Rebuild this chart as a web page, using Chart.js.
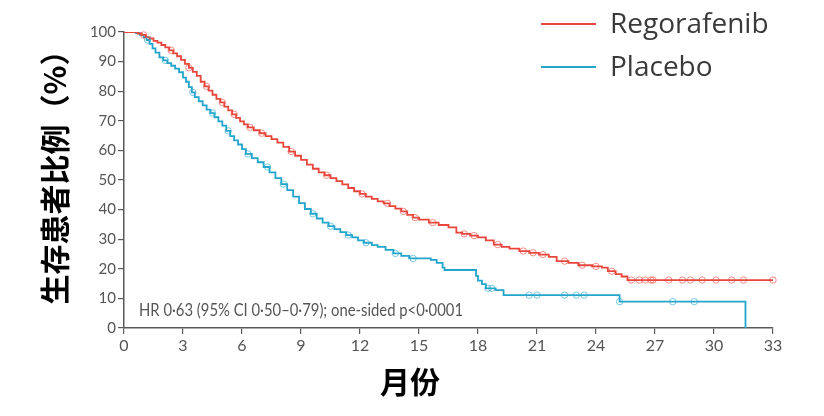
<!DOCTYPE html>
<html>
<head>
<meta charset="utf-8">
<script src="https://cdn.jsdelivr.net/npm/chart.js@4/dist/chart.umd.min.js"></script>
<style>
    html, body { margin: 0; padding: 0; background: #fff; }
    #wrap { position: relative; width: 824px; height: 416px; }
</style>
</head>
<body>
<div id="wrap"><canvas id="grafica" width="824" height="416"></canvas></div>
<script>
/* ==========================================================
   Kaplan-Meier: Regorafenib vs Placebo
========================================================== */

const xTicks = [0, 3, 6, 9, 12, 15, 18, 21, 24, 27, 30, 33];
const yTicks = [0, 10, 20, 30, 40, 50, 60, 70, 80, 90, 100];

const regoT = [0, 0.5, 0.7, 0.9, 1.1, 1.3, 1.5, 1.7, 1.9, 2.1, 2.3, 2.5, 2.7, 2.9,
    3.1, 3.3, 3.5, 3.7, 3.9, 4.1, 4.3, 4.5, 4.7, 4.9, 5.1, 5.3, 5.5, 5.7, 5.9,
    6.1, 6.3, 6.6, 6.9, 7.2, 7.5, 7.8, 8.1, 8.4, 8.7, 9.0, 9.3, 9.6, 9.9, 10.2,
    10.5, 10.8, 11.1, 11.4, 11.7, 12.0, 12.3, 12.6, 12.9, 13.2, 13.5, 13.8, 14.1,
    14.4, 14.7, 15.0, 15.5, 16.0, 16.5, 16.9, 17.2, 17.6, 18.0, 18.4, 18.8, 19.2,
    19.6, 20.1, 20.6, 21.1, 21.6, 22.0, 22.6, 23.1, 23.8, 24.3, 24.6, 25.0, 25.3,
    25.6, 33.0];
const regoS = [100, 100, 99.5, 99, 98.3, 97.8, 97, 96.4, 95.6, 94.8, 93.8, 92.8, 91.8, 90.6,
    89.2, 87.9, 86.5, 85.2, 83.2, 81.6, 80.2, 78.8, 77.4, 76.2, 74.8, 73.5, 72.2, 71.0, 69.8,
    68.8, 67.8, 66.8, 65.8, 64.8, 63.8, 62.6, 61.2, 59.6, 58.2, 56.8, 55.2, 53.8, 52.6, 51.6,
    50.6, 49.6, 48.5, 47.3, 46.2, 45.3, 44.4, 43.6, 42.8, 42.1, 41.2, 40.3, 39.4,
    38.2, 37.3, 36.6, 35.6, 34.8, 34.0, 32.2, 31.8, 31.2, 30.6, 29.6, 28.2, 27.4,
    26.8, 26.0, 25.4, 24.8, 24.0, 22.6, 22.0, 21.2, 20.8, 20.4, 19.2, 18.2, 17.4,
    16.2, 16.2];

const placT = [0, 0.6, 0.8, 1.0, 1.15, 1.3, 1.45, 1.6, 1.8, 2.0, 2.2, 2.4, 2.6, 2.8,
    3.0, 3.15, 3.3, 3.45, 3.6, 3.8, 4.0, 4.2, 4.4, 4.6, 4.8, 5.0, 5.2, 5.4, 5.6, 5.8,
    6.0, 6.2, 6.5, 6.8, 7.1, 7.4, 7.7, 8.0, 8.3, 8.6, 8.9, 9.2, 9.5, 9.8, 10.1, 10.4,
    10.7, 11.0, 11.3, 11.6, 11.9, 12.2, 12.6, 12.9, 13.3, 13.7, 14.1, 14.5, 15.6,
    15.9, 16.2, 16.3, 17.8, 17.9, 18.0, 18.2, 18.4, 18.9, 19.3, 25.1, 25.2, 31.6, 31.6];
const placS = [100, 99.6, 99, 98.2, 97.3, 96.0, 94.5, 93.0, 91.4, 90.4, 89.5, 88.6, 87.6, 86.4,
    84.6, 83.2, 81.4, 79.6, 78.0, 76.6, 75.2, 73.8, 72.6, 71.2, 69.8, 68.4, 66.6, 64.8, 63.4, 62.0,
    60.4, 58.8, 57.4, 56.0, 54.4, 52.6, 50.6, 48.6, 46.6, 44.4, 42.2, 40.2, 38.6, 37.0, 35.6, 34.4,
    33.4, 32.4, 31.4, 30.6, 29.6, 28.8, 28.0, 27.4, 26.4, 25.2, 24.4, 23.5, 23.0,
    22.0, 20.4, 19.6, 19.6, 17.6, 16.0, 14.8, 13.4, 12.8, 11.1, 11.1, 8.9, 8.9, 0];

// censurados (círculos)
const regoCensT = [1.0, 2.4, 3.3, 4.2, 5.0, 5.6, 6.4, 7.0, 8.5, 10.3, 12.1, 13.4, 14.2, 14.8,
    15.7, 17.3, 17.8, 19.0, 20.3, 20.8, 21.3, 22.4, 23.3, 24.0, 24.8,
    25.8, 26.2, 26.5, 26.8, 26.9, 27.7, 28.4, 28.8, 29.4, 30.1, 30.9, 31.5, 33.0];
const regoCensS = [99, 93.8, 87.9, 81.6, 76.2, 72.2, 67.8, 65.8, 59.6, 51.6, 45.3, 42.1, 39.4, 37.3,
    35.6, 31.8, 31.2, 28.2, 26.0, 25.4, 24.8, 22.6, 21.2, 20.8, 19.2,
    16.2, 16.2, 16.2, 16.2, 16.2, 16.2, 16.2, 16.2, 16.2, 16.2, 16.2, 16.2, 16.2];

const placCensT = [1.2, 2.1, 3.5, 4.5, 5.3, 6.3, 7.3, 8.1, 9.6, 10.5, 11.4, 12.3, 13.8, 14.7,
    18.5, 18.7, 20.6, 21.0, 22.4, 23.0, 23.4, 25.2, 27.9, 29.0];
const placCensS = [97.3, 90.4, 79.6, 72.6, 66.6, 58.8, 54.4, 48.6, 38.6, 34.4, 31.4, 28.8, 25.2, 23.5,
    13.4, 13.4, 11.1, 11.1, 11.1, 11.1, 11.1, 8.9, 8.9, 8.9];

const nombres = ["Regorafenib", "Placebo"];
const colores = ["#e8463c", "#24a5cc"];
const coloresCens = ["rgba(232,70,60,.6)", "rgba(36,165,204,.6)"];

const anotacion = "HR 0·63 (95% CI 0·50–0·79); one-sided p<0·0001";
const tituloY = "生存患者比例（%）";
const tituloX = "月份";

/* ========================================================== */
function pares(t, s) {
    return t.map((x, i) => ({ x: x, y: s[i] }));
}

function curva(i, t, s) {
    return {
        label: nombres[i],
        data: pares(t, s),
        borderColor: colores[i],
        borderWidth: 1.8,
        stepped: "before",
        pointRadius: 0,
        fill: false,
        order: 1
    };
}

function censura(i, t, s) {
    return {
        label: nombres[i] + " cens",
        data: pares(t, s),
        showLine: false,
        pointStyle: "circle",
        pointRadius: 3.2,
        pointBorderWidth: 1,
        pointBorderColor: coloresCens[i],
        pointBackgroundColor: "rgba(0,0,0,0)",
        clip: false,
        order: 0
    };
}

/* ==========================================================
TEXTOS: leyenda, anotación y títulos
========================================================== */
const textos = {
    id: "textos",
    afterDraw(chart) {
        const ctx = chart.ctx;
        ctx.save();

        // leyenda
        const filas = [24, 67];
        nombres.forEach((n, i) => {
            ctx.strokeStyle = colores[i];
            ctx.lineWidth = 2.2;
            ctx.beginPath();
            ctx.moveTo(541, filas[i]);
            ctx.lineTo(596, filas[i]);
            ctx.stroke();

            ctx.fillStyle = "#3a3a3a";
            ctx.font = "28px 'Open Sans'";
            ctx.textAlign = "left";
            ctx.textBaseline = "middle";
            ctx.fillText(n, 610, filas[i] + 1);
        });

        // anotación HR
        ctx.fillStyle = "#555";
        ctx.font = "17px Lato";
        ctx.textAlign = "left";
        ctx.textBaseline = "alphabetic";
        ctx.fillText(anotacion, 139, 316, 324);

        // título eje Y
        ctx.fillStyle = "#000";
        ctx.font = "bold 30px 'Noto Sans CJK SC'";
        ctx.textAlign = "center";
        ctx.textBaseline = "middle";
        ctx.translate(55, 170);
        ctx.rotate(-Math.PI / 2);
        ctx.fillText(tituloY, 0, 0);
        ctx.setTransform(1, 0, 0, 1, 0, 0);

        // título eje X
        ctx.fillText(tituloX, 410, 382);

        ctx.restore();
    }
};

/* ========================================================== */
const ejeColor = "#5a5a5a";

new Chart(document.getElementById("grafica"), {
    type: "line",
    data: {
        datasets: [
            curva(0, regoT, regoS),
            curva(1, placT, placS),
            censura(0, regoCensT, regoCensS),
            censura(1, placCensT, placCensS)
        ]
    },
    options: {
        responsive: false,
        animation: false,
        layout: { padding: { top: 32, right: 51, left: 0, bottom: 0 } },
        plugins: {
            legend: { display: false },
            tooltip: { enabled: false }
        },
        scales: {
            x: {
                type: "linear",
                min: xTicks[0],
                max: xTicks[xTicks.length - 1],
                afterBuildTicks: s => { s.ticks = xTicks.map(v => ({ value: v })); },
                afterFit: s => { s.height = 88; },
                ticks: {
                    color: "#555",
                    font: { family: "Lato", size: 16 },
                    padding: 2,
                    maxRotation: 0
                },
                grid: {
                    drawOnChartArea: false,
                    drawTicks: true,
                    tickLength: 6,
                    color: ejeColor,
                    lineWidth: 1.2
                },
                border: { color: ejeColor, width: 1.5 }
            },
            y: {
                min: yTicks[0],
                max: yTicks[yTicks.length - 1],
                afterBuildTicks: s => { s.ticks = yTicks.map(v => ({ value: v })); },
                afterFit: s => { s.width = 124; },
                ticks: {
                    color: "#555",
                    font: { family: "Lato", size: 15 },
                    padding: 2
                },
                grid: {
                    drawOnChartArea: false,
                    drawTicks: true,
                    tickLength: 6,
                    color: ejeColor,
                    lineWidth: 1.2
                },
                border: { color: ejeColor, width: 1.5 }
            }
        }
    },
    plugins: [textos]
});
</script>
</body>
</html>
